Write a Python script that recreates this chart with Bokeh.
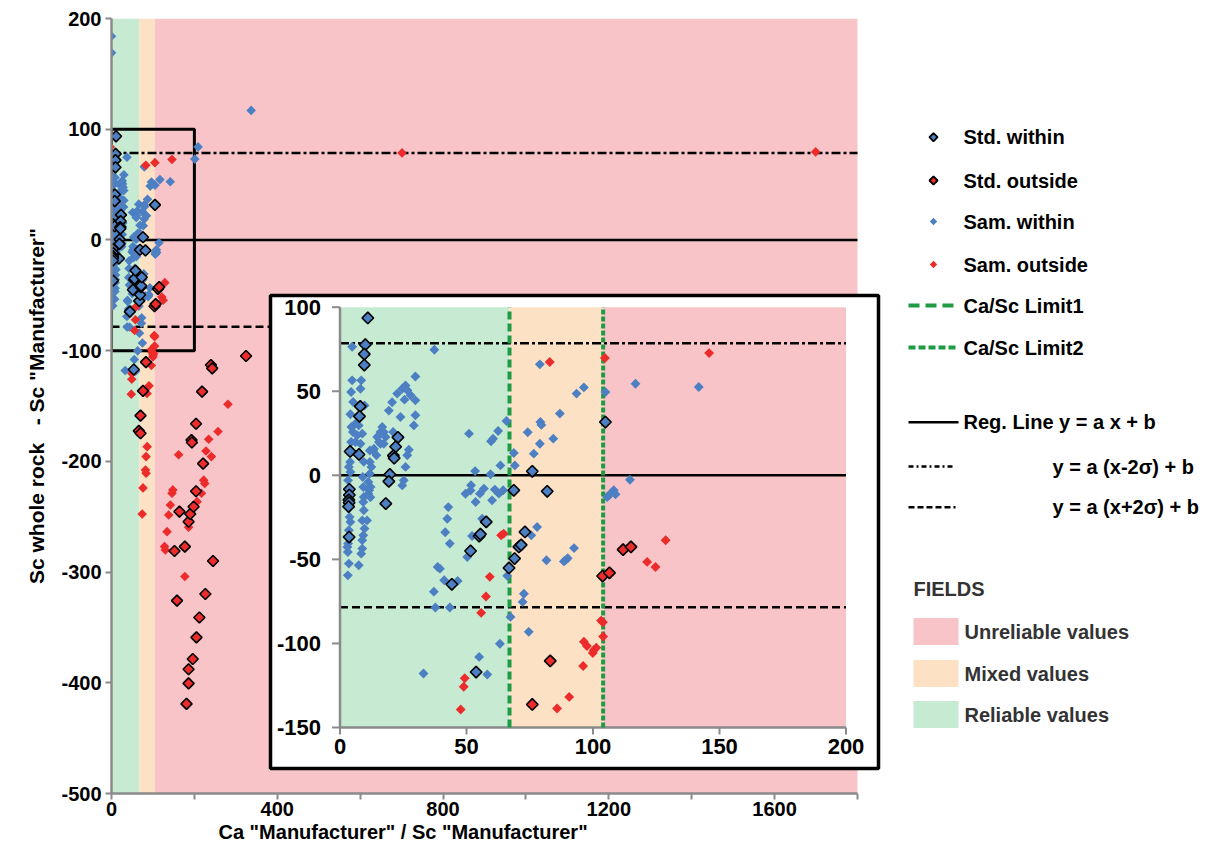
import math
import numpy as np
from bokeh.plotting import figure
from bokeh.models import Range1d, FixedTicker, Title
from bokeh.core.properties import value
from bokeh.embed import file_html
from bokeh.resources import INLINE

# ---------------------------------------------------------------- data
# Standards, within the 2-sigma band
std_within_x = [11.0, 10.0, 9.6, 9.6, 8.0, 7.7, 4.0, 7.5, 22.9, 22.0, 21.1, 21.4, 19.7, 19.3,
                18.1, 3.7, 3.7, 3.5, 3.6, 3.4, 3.6, 44.2, 51.6, 55.0, 55.5, 57.8, 53.8, 68.7,
                66.8, 69.0, 70.7, 71.6, 73.1, 76.0, 81.9, 104.9]
std_within_y = [93.6, 77.7, 72.1, 65.6, 41.0, 35.1, 14.2, 12.4, 22.6, 17.0, 11.7, 10.2, 0.5, -3.6,
                -16.8, -8.3, -11.7, -14.6, -16.3, -18.6, -36.7, -64.8, -45.0, -36.2, -35.0, -27.7,
                -117.0, -8.9, -55.1, -49.5, -42.6, -41.4, -33.7, 2.4, -9.5, 31.7]

# Standards, outside the 2-sigma band
std_outside_x = [83.1, 76.0, 103.8, 106.5, 111.9, 115.0, 324.6, 240, 243, 218.5, 70, 66, 70,
                 204, 193, 194, 221, 204, 164, 186, 190, 198, 152, 177, 245, 158, 226.5, 212,
                 205, 196, 186, 186, 181]
std_outside_y = [-110.4, -136.3, -59.9, -58.0, -44.2, -42.6, -104.8, -113, -116, -137, -158.7,
                 -172.5, -174.6, -166, -180.7, -183, -202, -227, -245.4, -254.5, -247.5, -241,
                 -281, -277, -290, -325.8, -319.8, -341, -359, -378.5, -387.8, -400.5, -419]

# Samples, within the 2-sigma band
sam_within_x = [4.8, 4.8, 4.4, 5.2, 4.1, 6.1, 5.1, 4.4, 4.0, 3.5, 4.1, 3.2, 3.8, 4.1, 3.5, 2.9,
                3.1, 3.5, 3.1, 6.8, 6.1, 3.2, 4.5,
                8.4, 8.1, 9.7, 7.4, 8.8, 8.1, 9.4, 9.2, 9.4, 9.2, 9.4, 8.8, 9.7, 9.2, 8.8, 8.8,
                8.4, 7.4, 10.7, 9.0,
                11.8, 12.4, 11.8, 11.2, 12.1, 11.5, 11.8, 13.1, 11.2, 12.0,
                16.7, 16.0, 17.3, 14.7, 18.0, 15.4, 17.3, 13.4, 16.0, 19.3, 20.6, 14.4, 21.0,
                23.9, 22.6, 24.6, 25.9, 26.6, 25.5, 29.8, 29.8, 29.8, 29.2, 27.2, 26.6, 25.9,
                24.6, 25.2, 27.9,
                37.3, 51.0, 53.4, 49.6, 51.8, 53.6, 51.6, 55.3, 42.8, 42.4, 41.6, 43.4, 38.6,
                39.5, 37.1, 41.2, 46.5, 37.7, 43.4, 33.0, 50.3, 52.2, 56.2, 56.9, 55.0, 58.2,
                59.7, 60.5, 62.5, 65.8, 59.5, 63.4, 61.2, 60.1, 62.8, 64.5, 66.1, 63.2, 67.4,
                68.7, 69.1, 74.2, 76.6, 79.0, 79.2, 79.6, 79.0, 84.3, 86.9, 93.5, 96.4, 75.6,
                77.9, 72.7, 72.2, 74.6, 81.6, 89.1, 90.0, 92.5, 88.5,
                104.9, 116.8, 141.8, 114.6, 105.6, 106.9, 108.2, 108.9, 106.3,
                0, 0, 337, 209, 201]
sam_within_y = [76.5, 56.5, 49.6, 43.6, 36.3, 30.7, 25.8, 19.8, 7.9, 5.0, 2.0, -3.0, -24.8, -27.7,
                -32.7, -42.6, -45.6, -52.5, -59.5, 23.8, 19.8, -40.6, 28.7,
                56.5, 51.5, 41.6, 29.7, 24.8, 18.8, 8.0, -7.0, -12.9, -15.9, -20.8, -26.8, -31.7,
                -35.7, -38.6, -43.6, -46.6, -53.5, -26.8, -1.0,
                7.9, 5.0, 1.0, -4.0, -6.9, -8.9, 14.8, 14.8, -10.9, -13.0,
                28.7, 25.7, 25.7, 22.8, 22.8, 19.8, 18.8, 15.8, 18.8, 38.5, 43.5, 11.9, 25.8,
                34.7, 48.6, 51.5, 53.5, 50.6, 45.0, 58.8, 44.6, 35.7, 29.7, 15.2, 11.9, 5.0,
                -6.0, -3.0, 47.6,
                74.7, 24.8, 2.5, -11.0, -5.9, -15.9, -9.0, -10.9, -18.9, -25.8, -33.9, -40.6,
                -54.5, -55.5, -69.2, -62.4, -62.9, -78.6, -78.6, -117.9, -48.6, -36.1, -25.8,
                -7.9, -108.0, -118.5,
                20.2, 21.8, 26.4, 32.3, 0.6, 5.9, -8.5, -14.9, -10.9, -8.9, -59.8, -100.2, -84.2,
                13.3, 5.9, 25.6, 12.9, 18.8, 31.7, 30.0, 66.0, 21.8, 36.7, 48.6, 52.3, -35.7,
                -30.7, -70.4, -75.3, -93.1, -50.5, -50.5, -49.3, -43.3, -51.2,
                49.5, 54.5, 52.5, -2.6, -12.9, -10.9, -8.9, -11.3, -11.9,
                184, 169, 117, 84, 73]

# Samples, outside the 2-sigma band
sam_outside_x = [82.9, 63.7, 64.7, 59.2, 57.7, 55.8, 49.3, 48.9, 47.7, 85.8, 90.6, 96.4, 97.6,
                 96.1, 104.7, 145.9, 128.7, 121.4, 124.7, 103.2, 103.9, 104.0, 100.3, 101.3,
                 99.9, -3, -3, 701, 1699, 281, 257, 234.5, 228, 241, 162, 222.5, 225, 148, 146,
                 217, 142, 138, 134, 128, 130, 177, 186, 206.5, 86, 83.5, 82, 83.5, 76, 74]
sam_outside_y = [67.4, -35.7, -34.7, -60.4, -72.1, -81.8, -120.7, -125.8, -139.3, -138.7,
                 -131.8, -99.0, -101.5, -113.4, 69.8, 72.7, -38.6, -51.5, -54.5, -86.4, -87.4,
                 -95.9, -104.0, -102.5, -105.7, 95, 84, 78.6, 79.5, -148.4, -173, -180, -190.6,
                 -195.7, -194, -217, -220, -225.8, -228.8, -228.8, -239.4, -248.4, -263.5, -277,
                 -280, -304, -259.5, -236.4, -186.7, -195.7, -207.8, -210.8, -224, -247.5]

# Regression line and +/- 2 sigma lines (y = a x + b, shown as horizontal lines)
reg_b = 0.0
two_sigma_shift = 78.5

# Ca/Sc limits separating the fields
limit1 = 67
limit2 = 104
x_max = 1800
y_min, y_max = -500, 200

# zoomed area drawn as a box in the main plot, and ranges of the inset
zoom_box_x = (0, 200)
zoom_box_y = (-100, 100)
inset_x = (0, 200)
inset_y = (-150, 100)

x_ticks = [0, 200, 400, 600, 800, 1000, 1200, 1400, 1600, 1800]
x_tick_labels = ["0", "", "400", "", "800", "", "1200", "", "1600", ""]
y_ticks = [-500, -400, -300, -200, -100, 0, 100, 200]
y_tick_labels = ["-500", "-400", "-300", "-200", "-100", "0", "100", "200"]
inset_x_ticks = [0, 50, 100, 150, 200]
inset_y_ticks = [-150, -100, -50, 0, 50, 100]

x_title = "Ca \"Manufacturer\" / Sc \"Manufacturer\""
y_title = "Sc whole rock" + "\u00a0" * 3 + "- Sc \"Manufacturer\""
legend_markers = ["Std. within", "Std. outside", "Sam. within", "Sam. outside"]
legend_limits = ["Ca/Sc Limit1", "Ca/Sc Limit2"]
legend_lines = ["Reg. Line y = a x + b", "y = a (x-2\u03c3) + b", "y = a (x+2\u03c3) + b"]
legend_fields = ["Unreliable values", "Mixed values", "Reliable values"]

# ---------------------------------------------------------------- styles
FONT_NAME = "Liberation Sans"
FONT = value(FONT_NAME)
PINK, PEACH, MINT = "#F8C4C8", "#FCE1C5", "#C6EBD2"
BLUE, RED = "#4D7FC3", "#EC2B2B"
GREEN = "#1F9A45"
GREY = "#8A8A8A"

W, H = 1199, 847
# layout: position (px) of the main frame inside the picture
PX_LEFT, PX_TOP, PX_BOTTOM = 111, 18, 793
PX_X1800 = 857
sx = (PX_X1800 - PX_LEFT) / x_max
sy = (PX_BOTTOM - PX_TOP) / (y_max - y_min)
X_END = (W - PX_LEFT) / sx


def px_to_x(px):
    return (px - PX_LEFT) / sx


def px_to_y(py):
    return y_max - (py - PX_TOP) / sy


p = figure(width=W, height=H, x_range=Range1d(0, X_END), y_range=Range1d(y_min, y_max),
           output_backend="svg", toolbar_location=None,
           min_border_left=PX_LEFT, min_border_right=0, min_border_top=PX_TOP,
           min_border_bottom=H - PX_BOTTOM)
p.outline_line_color = None
p.grid.visible = False
p.background_fill_color = "white"
p.extra_x_ranges = {"lx": Range1d(PX_LEFT, W)}
p.extra_y_ranges = {"ly": Range1d(PX_BOTTOM, PX_TOP)}

for ax in (p.xaxis[0], p.yaxis[0]):
    ax.axis_line_color = GREY
    ax.axis_line_width = 2.5
    ax.major_tick_line_color = GREY
    ax.major_tick_line_width = 2
    ax.major_tick_out = 6
    ax.major_tick_in = 0
    ax.minor_tick_line_color = None
    ax.major_label_text_font = FONT_NAME
    ax.major_label_text_font_style = "bold"
    ax.major_label_text_font_size = "20px"
    ax.major_label_text_color = "black"
    ax.major_label_standoff = 4

p.xaxis.major_label_standoff = 2
p.xaxis.bounds = (0, x_max)
p.xaxis.ticker = FixedTicker(ticks=x_ticks)
p.xaxis.major_label_overrides = {t: l for t, l in zip(x_ticks, x_tick_labels)}
p.yaxis.ticker = FixedTicker(ticks=y_ticks)
p.yaxis.major_label_overrides = {t: l for t, l in zip(y_ticks, y_tick_labels)}
p.yaxis.axis_label = y_title
p.yaxis.axis_label_text_font = FONT_NAME
p.yaxis.axis_label_text_font_style = "bold"
p.yaxis.axis_label_text_font_size = "21px"
p.yaxis.axis_label_text_color = "black"
p.yaxis.axis_label_standoff = 10

# x title, left-aligned like the original
p.add_layout(Title(text=x_title, align="left", offset=107, text_font=FONT_NAME,
                   text_font_style="bold", text_font_size="20px", text_color="black",
                   standoff=0), "below")

# ---------------------------------------------------------------- main plot
field_left = [0, limit1, limit2]
field_right = [limit1, limit2, x_max]
field_colors = [MINT, PEACH, PINK]
p.quad(left=field_left, right=field_right, bottom=y_min, top=y_max, fill_color=field_colors,
       line_color=None)

p.segment(x0=0, x1=x_max, y0=reg_b, y1=reg_b, line_color="black", line_width=2.5)
p.segment(x0=0, x1=x_max, y0=reg_b + two_sigma_shift, y1=reg_b + two_sigma_shift,
          line_color="black", line_width=2.5, line_dash="9 3 3 3")
p.segment(x0=0, x1=x_max, y0=reg_b - two_sigma_shift, y1=reg_b - two_sigma_shift,
          line_color="black", line_width=2.5, line_dash="8 4")

p.quad(left=zoom_box_x[0], right=zoom_box_x[1], bottom=zoom_box_y[0], top=zoom_box_y[1],
       fill_color=None, line_color="black", line_width=3)

ANG = math.pi / 4


def draw_points(api, size_s, size_std, mask=None):
    sets = [
        (sam_within_x, sam_within_y, BLUE, None, size_s),
        (sam_outside_x, sam_outside_y, RED, None, size_s),
        (std_within_x, std_within_y, BLUE, "black", size_std),
        (std_outside_x, std_outside_y, RED, "black", size_std),
    ]
    for x, y, fc, lc, sz in sets:
        x = np.asarray(x, float)
        y = np.asarray(y, float)
        if mask is not None:
            m = mask(x, y)
            x, y = x[m], y[m]
        api.scatter(x=x, y=y, marker="square", angle=ANG, size=sz, fill_color=fc,
                    line_color=lc, line_width=1.6 if lc else 0)


draw_points(p, 6.8, 7.8)

# ---------------------------------------------------------------- inset
# white panel holding the inset (layout, px)
p.quad(left=px_to_x(270), right=px_to_x(878), top=px_to_y(295), bottom=px_to_y(768),
       fill_color="white", line_color="black", line_width=3.5)

sub = p.subplot(x_source=Range1d(*inset_x), y_source=Range1d(*inset_y),
                x_target=Range1d(px_to_x(339.5), px_to_x(845.5)),
                y_target=Range1d(px_to_y(727), px_to_y(306.7)))

in_left = [inset_x[0], limit1, limit2]
in_right = [limit1, limit2, inset_x[1]]
sub.quad(left=in_left, right=in_right, bottom=inset_y[0], top=inset_y[1],
         fill_color=field_colors, line_color=None)
sub.segment(x0=inset_x[0], x1=inset_x[1], y0=reg_b, y1=reg_b, line_color="black", line_width=2.5)
sub.segment(x0=inset_x[0], x1=inset_x[1], y0=reg_b + two_sigma_shift, y1=reg_b + two_sigma_shift,
            line_color="black", line_width=2.5, line_dash="9 3 3 3")
sub.segment(x0=inset_x[0], x1=inset_x[1], y0=reg_b - two_sigma_shift, y1=reg_b - two_sigma_shift,
            line_color="black", line_width=2.5, line_dash="8 4")

# inset axes
sub.segment(x0=[inset_x[0], inset_x[0]], y0=[inset_y[0], inset_y[0]],
            x1=[inset_x[0], inset_x[1]], y1=[inset_y[1], inset_y[0]],
            line_color=GREY, line_width=2.5)
sub.ray(x=[inset_x[0]] * len(inset_y_ticks), y=inset_y_ticks, length=8, angle=math.pi,
        length_units="screen", line_color=GREY, line_width=2)
sub.ray(x=inset_x_ticks, y=[inset_y[0]] * len(inset_x_ticks), length=7, angle=-math.pi / 2,
        length_units="screen", line_color=GREY, line_width=2)
sub.text(x=[inset_x[0]] * len(inset_y_ticks), y=inset_y_ticks, text=[str(v) for v in inset_y_ticks],
         x_offset=-19, text_align="right", text_baseline="middle", text_font=FONT,
         text_font_style="bold", text_font_size="22px", text_color="black")
sub.text(x=inset_x_ticks, y=[inset_y[0]] * len(inset_x_ticks), text=[str(v) for v in inset_x_ticks],
         y_offset=11, text_align="center", text_baseline="top", text_font=FONT,
         text_font_style="bold", text_font_size="22px", text_color="black")

# Ca/Sc limit lines
sub.segment(x0=limit1, x1=limit1, y0=inset_y[0], y1=inset_y[1], line_color=GREEN, line_width=4,
            line_dash="8 4")
sub.segment(x0=limit2, x1=limit2, y0=inset_y[0], y1=inset_y[1], line_color=GREEN, line_width=4,
            line_dash="5 2")


def in_inset(x, y):
    return (x >= inset_x[0]) & (x <= inset_x[1]) & (y >= inset_y[0]) & (y <= inset_y[1])


draw_points(sub, 7.0, 8.2, mask=in_inset)

# ---------------------------------------------------------------- legend (px)
L = dict(x_range_name="lx", y_range_name="ly")
TXT = dict(text_font=FONT, text_font_style="bold", text_font_size="20px", text_baseline="middle")
row_m = [136.7, 180, 221, 264]
p.scatter(x=[933, 933], y=row_m[:2], marker="square", angle=ANG, size=5.8,
          fill_color=[BLUE, RED], line_color="black", line_width=1.8, **L)
p.scatter(x=[933, 933], y=row_m[2:], marker="square", angle=ANG, size=5.2, fill_color=[BLUE, RED],
          line_color=None, **L)
p.text(x=[963] * 4, y=row_m, text=legend_markers, text_color="black", **TXT, **L)

row_l = [305, 347]
p.segment(x0=908, x1=958, y0=row_l[0], y1=row_l[0], line_color=GREEN, line_width=4,
          line_dash="11 6", **L)
p.segment(x0=908, x1=958, y0=row_l[1], y1=row_l[1], line_color=GREEN, line_width=4,
          line_dash="7 3", **L)
p.text(x=[963] * 2, y=row_l, text=legend_limits, text_color="black", **TXT, **L)

row_r = [421.7, 466, 506.7]
p.segment(x0=908, x1=958, y0=row_r[0], y1=row_r[0], line_color="black", line_width=2.5, **L)
p.segment(x0=908, x1=952, y0=row_r[1], y1=row_r[1], line_color="black", line_width=2.5,
          line_dash="5 3 2 3", **L)
p.segment(x0=908, x1=955, y0=row_r[2], y1=row_r[2], line_color="black", line_width=2.5,
          line_dash="6 3", **L)
p.text(x=[963, 1052, 1052], y=row_r, text=legend_lines, text_color="black", **TXT, **L)

p.text(x=[913], y=[588], text=["FIELDS"], text_color="#333333", **TXT, **L)
row_f = [631, 673, 714]
p.rect(x=[935.5] * 3, y=row_f, width=45, height=27, fill_color=[PINK, PEACH, MINT],
       line_color=None, **L)
p.text(x=[964] * 3, y=row_f, text=legend_fields, text_color="#333333", **TXT, **L)

open("out.html", "w").write(file_html(p, INLINE))
